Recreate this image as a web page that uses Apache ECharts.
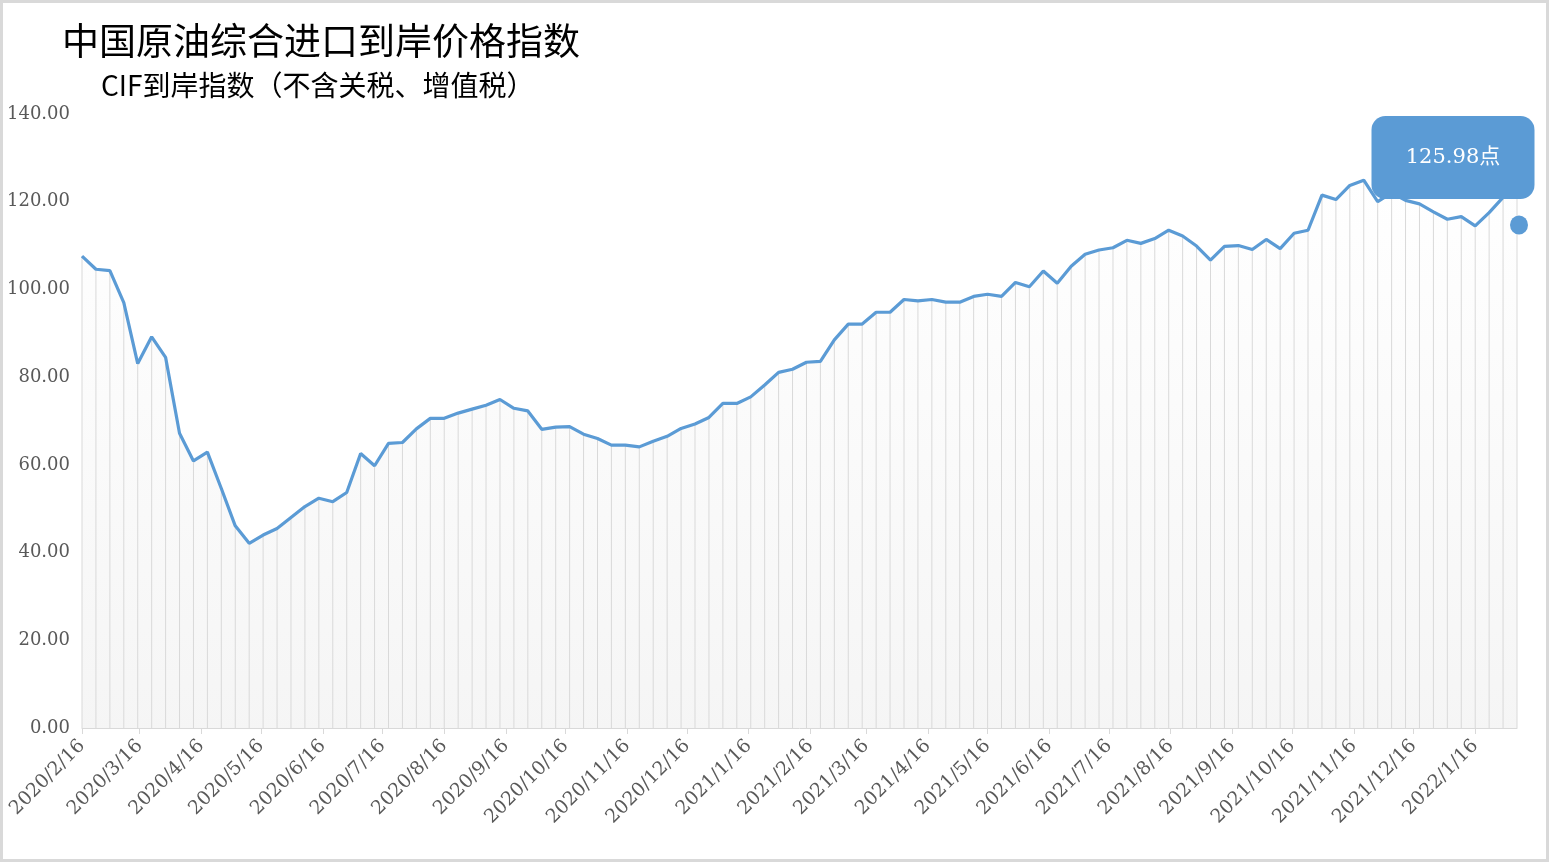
<!doctype html>
<html lang="zh-CN">
<head>
<meta charset="utf-8"/>
<title>中国原油综合进口到岸价格指数</title>
<style>
  html, body { margin: 0; padding: 0; background: #fff; }
  #chart { position: absolute; left: 0; top: 0; width: 1549px; height: 862px; }
  #frame { position: absolute; left: 0; top: 0; width: 1549px; height: 862px;
           box-sizing: border-box; border: 3px solid #d9d9d9; pointer-events: none; }
</style>
</head>
<body>
<div id="chart"></div>
<div id="frame"></div>
<script src="https://cdn.jsdelivr.net/npm/echarts@6.0.0/dist/echarts.min.js"></script>
<script>
  // weekly CIF index, first week 2020/2/16
  const startDay = "2020/2/16";
  const indexValues = [
    107.6, 104.6, 104.3, 97.0, 83.1, 89.2, 84.5, 67.2, 60.9, 62.9,
    54.6, 46.1, 42.1, 44.0, 45.5, 48.0, 50.5, 52.4, 51.6, 53.7,
    62.6, 59.8, 64.9, 65.1, 68.2, 70.6, 70.6, 71.8, 72.7, 73.6,
    74.9, 72.9, 72.3, 68.1, 68.6, 68.7, 67.0, 66.0, 64.5, 64.5,
    64.1, 65.4, 66.5, 68.3, 69.3, 70.8, 74.0, 74.0, 75.5, 78.2,
    81.1, 81.8, 83.4, 83.6, 88.5, 92.1, 92.1, 94.8, 94.8, 97.7,
    97.4, 97.7, 97.1, 97.1, 98.4, 98.9, 98.4, 101.6, 100.6, 104.2,
    101.4, 105.3, 108.0, 109.0, 109.5, 111.2, 110.5, 111.6, 113.5, 112.2,
    109.9, 106.7, 109.8, 110.0, 109.1, 111.4, 109.3, 112.8, 113.5, 121.5,
    120.5, 123.7, 124.9, 120.0, 122.0, 120.3, 119.5, 117.7, 116.0, 116.6,
    114.5, 117.5, 121.0, 125.98
  ];
  const tickDates = [
    "2020/2/16", "2020/3/16", "2020/4/16", "2020/5/16", "2020/6/16", "2020/7/16",
    "2020/8/16", "2020/9/16", "2020/10/16", "2020/11/16", "2020/12/16", "2021/1/16",
    "2021/2/16", "2021/3/16", "2021/4/16", "2021/5/16", "2021/6/16", "2021/7/16",
    "2021/8/16", "2021/9/16", "2021/10/16", "2021/11/16", "2021/12/16", "2022/1/16"
  ];
  const yTicks = [0, 20, 40, 60, 80, 100, 120, 140];
  const calloutText = "125.98点";
  const calloutDotValue = 114.7;

  const BLUE = "#5b9bd5";
  const GREY = "#595959";
  const SERIF = "'DejaVu Serif', 'Noto Sans CJK SC', serif";
  const DAY = 86400000;

  const toUTC = (s) => {
    const [y, m, d] = s.split("/").map(Number);
    return Date.UTC(y, m - 1, d);
  };
  const t0 = toUTC(startDay);
  // x is days since the first week
  const dayOf = (s) => Math.round((toUTC(s) - t0) / DAY);
  const labelOf = (day) => {
    const d = new Date(t0 + day * DAY);
    return `${d.getUTCFullYear()}/${d.getUTCMonth() + 1}/${d.getUTCDate()}`;
  };

  const points = indexValues.map((v, i) => [7 * i, v]);
  const tickDays = tickDates.map(dayOf);
  const last = points[points.length - 1];

  const chart = echarts.init(document.getElementById("chart"));
  chart.setOption({
    animation: false,
    backgroundColor: "#fff",
    title: [
      { text: "中国原油综合进口到岸价格指数", left: 57, top: 17,
        textStyle: { fontFamily: "'Noto Sans CJK SC'", fontSize: 37, fontWeight: "normal", color: "#000" } },
      { text: "CIF到岸指数（不含关税、增值税）", left: 96, top: 66,
        textStyle: { fontFamily: "'Noto Sans CJK SC'", fontSize: 28, fontWeight: "normal", color: "#000" } }
    ],
    grid: { left: 82, right: 32, top: 114, bottom: 134, containLabel: false },
    xAxis: {
      type: "value",
      min: 0,
      max: last[0],
      splitLine: { show: false },
      axisLine: { onZero: false, lineStyle: { color: "#d9d9d9", width: 1 } },
      axisTick: { show: true, length: 6, customValues: tickDays,
                  lineStyle: { color: "#d9d9d9" } },
      axisLabel: {
        customValues: tickDays,
        rotate: 45, margin: 15, hideOverlap: false,
        fontFamily: SERIF, fontSize: 19, color: GREY,
        formatter: (v) => labelOf(v)
      }
    },
    yAxis: {
      type: "value",
      min: yTicks[0],
      max: yTicks[yTicks.length - 1],
      interval: yTicks[1] - yTicks[0],
      splitLine: { show: false },
      axisLine: { show: false },
      axisTick: { show: false },
      axisLabel: { margin: 12, fontFamily: SERIF, fontSize: 18, color: GREY,
                   formatter: (v) => v.toFixed(2) }
    },
    series: [
      {
        name: "fill", type: "line", data: points, z: 1, silent: true,
        symbol: "none", lineStyle: { width: 0 },
        areaStyle: {
          color: new echarts.graphic.LinearGradient(0, 0, 0, 1, [
            { offset: 0, color: "#ffffff" },
            { offset: 1, color: "#f1f1f1" }
          ])
        }
      },
      {
        name: "drop", type: "bar", data: points, z: 2, silent: true,
        barWidth: 1, itemStyle: { color: "#d9d9d9" }
      },
      {
        name: "CIF到岸指数", type: "line", data: points, z: 3,
        symbol: "none", lineStyle: { color: BLUE, width: 3.2 },
        markPoint: {
          silent: true,
          data: [
            {
              coord: [last[0], last[1]], symbol: "circle", symbolSize: 1,
              itemStyle: { color: "rgba(0,0,0,0)" },
              label: {
                show: true, position: "inside", offset: [-64, -18],
                formatter: calloutText, color: "#fff",
                fontFamily: SERIF, fontSize: 21,
                backgroundColor: BLUE, borderRadius: 14,
                width: 163, height: 83, lineHeight: 83,
                align: "center", verticalAlign: "middle"
              }
            },
            {
              coord: [last[0], calloutDotValue], symbol: "circle", symbolSize: [18, 19],
              symbolOffset: [2, 0],
              itemStyle: { color: BLUE }, label: { show: false }
            }
          ]
        }
      }
    ]
  });
</script>
</body>
</html>
